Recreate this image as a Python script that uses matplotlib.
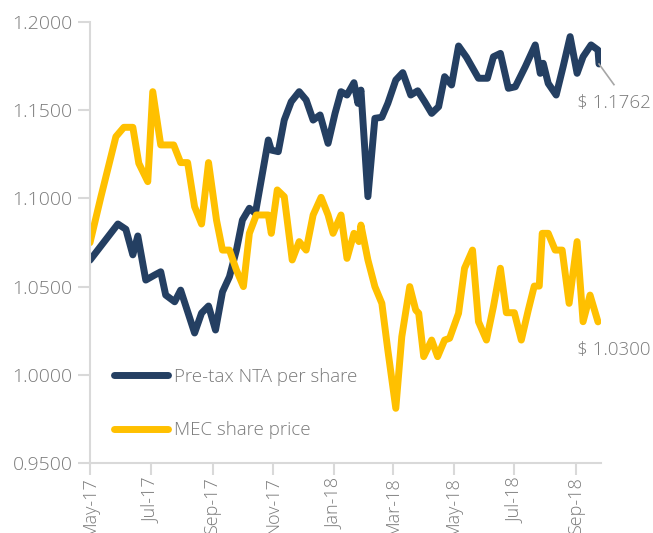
"""MEC: pre-tax NTA per share vs share price, May-17 to Sep-18."""

import pandas as pd
import matplotlib
matplotlib.use("Agg")
import matplotlib.pyplot as plt
import matplotlib.dates as mdates
from matplotlib.ticker import FormatStrFormatter

START = pd.Timestamp("2017-05-01")

# days since 1 May 2017
nta_days = [0, 28, 36, 43, 48, 56, 65, 71, 76, 85, 91, 105, 112, 119, 126, 133,
            140, 147, 153, 160, 166, 179, 182, 189, 195, 202, 210, 217, 224, 231,
            239, 246, 252, 258, 265, 269, 272, 279, 286, 293, 299, 307, 314, 322,
            329, 336, 343, 350, 356, 363, 370, 378, 390, 399, 405, 412, 420, 427,
            437, 447, 452, 455, 460, 468, 475, 482, 489, 495, 503, 510, 511]
nta_vals = [1.0650, 1.0855, 1.0825, 1.0680, 1.0787, 1.0537, 1.0566, 1.0584, 1.0452,
            1.0414, 1.0480, 1.0237, 1.0350, 1.0390, 1.0254, 1.0470, 1.0556, 1.0707,
            1.0877, 1.0944, 1.0915, 1.1331, 1.1274, 1.1265, 1.1444, 1.1548, 1.1605,
            1.1558, 1.1444, 1.1473, 1.1312, 1.1482, 1.1605, 1.1586, 1.1656, 1.1539,
            1.1614, 1.1010, 1.1454, 1.1460, 1.1539, 1.1671, 1.1713, 1.1586, 1.1610,
            1.1548, 1.1482, 1.1520, 1.1690, 1.1643, 1.1864, 1.1800, 1.1681, 1.1681,
            1.1803, 1.1822, 1.1624, 1.1633, 1.1747, 1.1870, 1.1709, 1.1766, 1.1652,
            1.1586, 1.1747, 1.1917, 1.1709, 1.1803, 1.1870, 1.1841, 1.1762]

price_days = [0, 11, 26, 34, 43, 49, 58, 63, 71, 84, 91, 98, 105, 112, 119, 127,
              133, 140, 147, 154, 160, 167, 179, 182, 188, 195, 203, 210, 217, 224,
              232, 239, 244, 252, 258, 265, 270, 272, 279, 286, 293, 299, 307, 313,
              321, 327, 330, 335, 343, 349, 356, 361, 370, 376, 384, 390, 398, 405,
              412, 418, 426, 433, 440, 446, 451, 454, 460, 467, 474, 481, 489, 495,
              502, 510]
price_vals = [1.0749, 1.1010, 1.1350, 1.1403, 1.1403, 1.1199, 1.1095, 1.1605, 1.1303,
              1.1303, 1.1203, 1.1203, 1.0953, 1.0855, 1.1203, 1.0877, 1.0707, 1.0707,
              1.0594, 1.0500, 1.0802, 1.0906, 1.0906, 1.0802, 1.1048, 1.1010, 1.0651,
              1.0755, 1.0707, 1.0906, 1.1006, 1.0906, 1.0802, 1.0906, 1.0660, 1.0802,
              1.0755, 1.0849, 1.0651, 1.0500, 1.0405, 1.0140, 0.9810, 1.0216, 1.0500,
              1.0367, 1.0349, 1.0103, 1.0197, 1.0103, 1.0197, 1.0207, 1.0349, 1.0604,
              1.0707, 1.0301, 1.0197, 1.0386, 1.0604, 1.0352, 1.0352, 1.0197, 1.0367,
              1.0503, 1.0503, 1.0802, 1.0802, 1.0707, 1.0707, 1.0405, 1.0755, 1.0301,
              1.0452, 1.0300]

y_ticks = [0.95, 1.00, 1.05, 1.10, 1.15, 1.20]
x_tick_dates = ["2017-05-01", "2017-07-01", "2017-09-01", "2017-11-01", "2018-01-01",
                "2018-03-01", "2018-05-01", "2018-07-01", "2018-09-01"]

NAVY = "#243F62"
GOLD = "#FFC000"
GREY_TXT = "#7A7A7A"
GREY_AX = "#D9D9D9"

plt.rcParams["font.family"] = ["Open Sans", "DejaVu Sans"]
plt.rcParams["font.weight"] = "light"

nta_dates = START + pd.to_timedelta(nta_days, unit="D")
price_dates = START + pd.to_timedelta(price_days, unit="D")

fig = plt.figure(figsize=(6.53, 5.33), dpi=100)
ax = fig.add_axes([90 / 653, 70 / 533, 511 / 653, 441 / 533])

ax.plot(nta_dates, nta_vals, color=NAVY, lw=5, solid_joinstyle="round",
        solid_capstyle="round", label="Pre-tax NTA per share")
ax.plot(price_dates, price_vals, color=GOLD, lw=5, solid_joinstyle="round",
        solid_capstyle="round", label="MEC share price")

ax.set_ylim(0.95, 1.20)
ax.set_xlim(START, START + pd.Timedelta(days=513))
ax.set_yticks(y_ticks)
ax.yaxis.set_major_formatter(FormatStrFormatter("%.4f"))
ax.set_xticks(pd.to_datetime(x_tick_dates))
ax.xaxis.set_major_formatter(mdates.DateFormatter("%b-%y"))
ax.tick_params(colors=GREY_AX, labelcolor=GREY_TXT, length=8.5, width=1.5)
ax.tick_params(axis="x", rotation=90, pad=2, labelsize=13)
ax.tick_params(axis="y", pad=4, labelsize=14)

for side in ("top", "right"):
    ax.spines[side].set_visible(False)
for side in ("left", "bottom"):
    ax.spines[side].set_color(GREY_AX)
    ax.spines[side].set_linewidth(1.5)

ax.legend(loc="upper left", bbox_to_anchor=(0.013, 0.254), frameon=False,
          fontsize=13.5, handlelength=2.9, handletextpad=0.3, labelspacing=1.9,
          labelcolor=GREY_TXT)

# end-of-series labels
ax.plot([nta_dates[-1], nta_dates[-1] + pd.Timedelta(days=15)], [1.1762, 1.1645],
        color="#A6A6A6", lw=1.2, clip_on=False)
ax.annotate("$ 1.1762", xy=(614 / 653, 1.1541), xycoords=("figure fraction", "data"),
            ha="center", va="center", fontsize=13.5, color=GREY_TXT,
            annotation_clip=False)
ax.annotate("$ 1.0300", xy=(614 / 653, 1.0141), xycoords=("figure fraction", "data"),
            ha="center", va="center", fontsize=13.5, color=GREY_TXT,
            annotation_clip=False)

fig.savefig("out.png", dpi=100)
